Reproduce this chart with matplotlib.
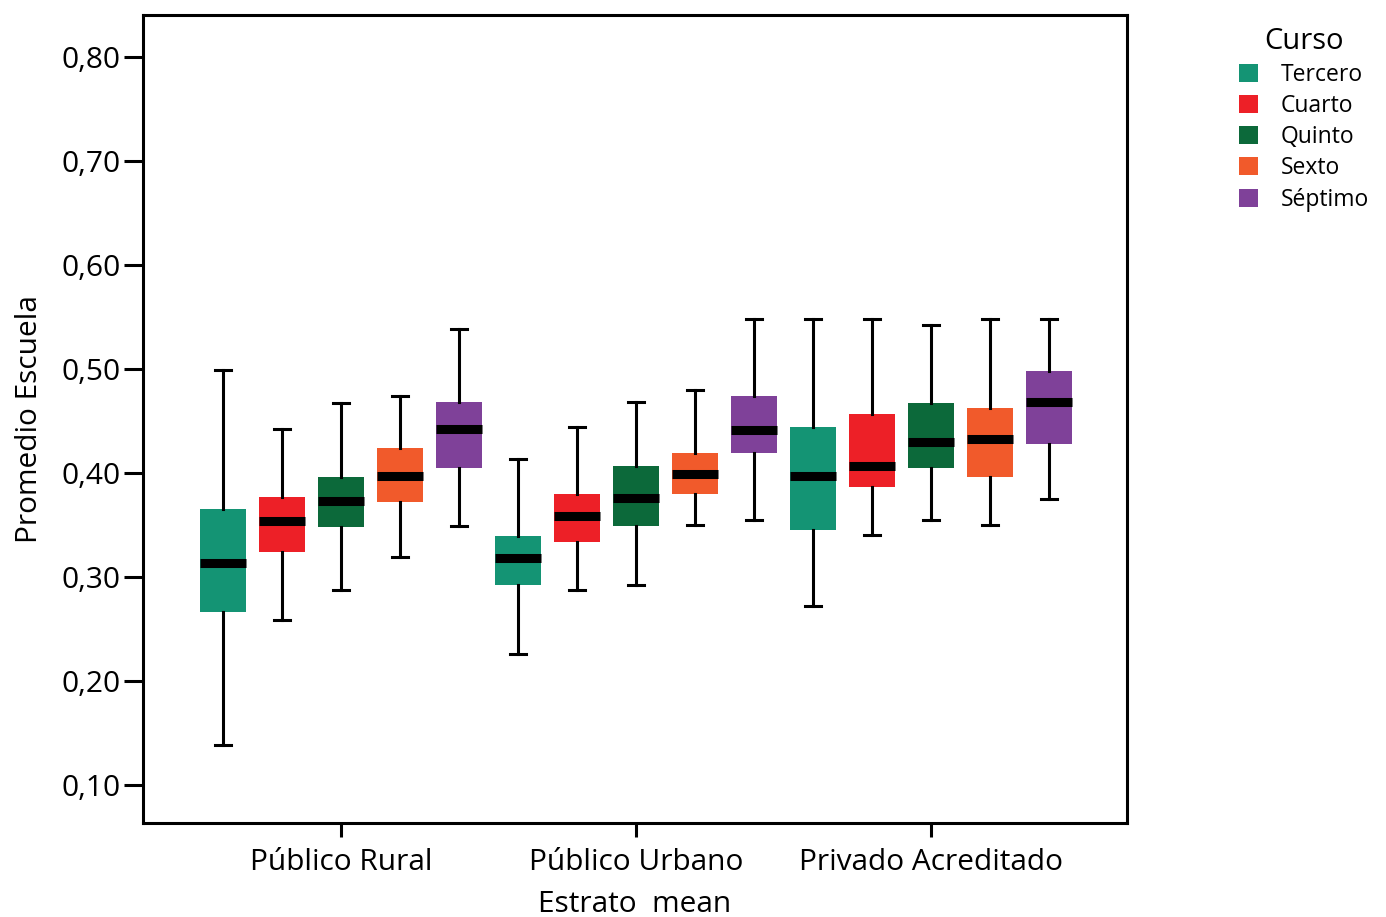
import matplotlib.pyplot as plt
from matplotlib.patches import Patch
from matplotlib.ticker import FuncFormatter

plt.rcParams['font.family'] = ['Open Sans', 'DejaVu Sans']

# Boxplot summary values
estratos = ["Público Rural", "Público Urbano", "Privado Acreditado"]
cursos = ["Tercero", "Cuarto", "Quinto", "Sexto", "Séptimo"]
colors = ["#149474", "#ED2027", "#0C693A", "#F15A2B", "#7F4199"]

# per estrato, per curso
whislo = [[0.138, 0.259, 0.287, 0.319, 0.349],
          [0.226, 0.287, 0.292, 0.350, 0.355],
          [0.272, 0.340, 0.355, 0.350, 0.375]]
q1 = [[0.266, 0.324, 0.348, 0.372, 0.405],
      [0.292, 0.334, 0.349, 0.380, 0.419],
      [0.345, 0.386, 0.405, 0.396, 0.428]]
med = [[0.313, 0.354, 0.373, 0.397, 0.442],
       [0.318, 0.359, 0.376, 0.399, 0.441],
       [0.397, 0.407, 0.430, 0.433, 0.468]]
q3 = [[0.365, 0.377, 0.396, 0.424, 0.468],
      [0.339, 0.380, 0.407, 0.419, 0.474],
      [0.444, 0.457, 0.467, 0.462, 0.498]]
whishi = [[0.499, 0.442, 0.467, 0.474, 0.538],
          [0.413, 0.444, 0.468, 0.480, 0.548],
          [0.548, 0.548, 0.542, 0.548, 0.548]]

fig = plt.figure(figsize=(13.86, 9.17), dpi=100)
ax = fig.add_axes([0.1032, 0.1025, 0.7099, 0.8811])

offset = 0.2
width = 0.153
for g in range(len(estratos)):
    for c in range(len(cursos)):
        stats = [dict(whislo=whislo[g][c], q1=q1[g][c], med=med[g][c],
                      q3=q3[g][c], whishi=whishi[g][c], fliers=[])]
        pos = g + (c - 2) * offset
        ax.bxp(stats, positions=[pos], widths=width, capwidths=0.054,
               patch_artist=True, showfliers=False,
               boxprops=dict(facecolor=colors[c], edgecolor='none', linewidth=0),
               medianprops=dict(color='black', linewidth=6.5, solid_capstyle='butt'),
               whiskerprops=dict(color='black', linewidth=2.2),
               capprops=dict(color='black', linewidth=2.2))

ax.set_xlim(-0.671, 2.664)
ax.set_ylim(0.0635, 0.840)
ax.set_yticks([0.1, 0.2, 0.3, 0.4, 0.5, 0.6, 0.7, 0.8])
ax.yaxis.set_major_formatter(FuncFormatter(lambda v, p: f"{v:.2f}".replace('.', ',')))
ax.set_xticks(range(len(estratos)))
ax.set_xticklabels(estratos)

ax.tick_params(axis='y', length=14, width=2.2, labelsize=21.5, pad=2)
ax.tick_params(axis='x', length=10, width=2.2, labelsize=21.5, pad=8)
for s in ax.spines.values():
    s.set_linewidth(2.2)

ax.set_ylabel("Promedio Escuela", fontsize=21.5, labelpad=13)
ax.set_xlabel("Estrato  mean", fontsize=21.5, labelpad=9)

handles = [Patch(facecolor=col, edgecolor='none') for col in colors]
leg = fig.legend(handles, cursos, loc='upper left', bbox_to_anchor=(1239 / 1386, 1 - 27 / 917),
                 frameon=False, fontsize=16.5, title="Curso", title_fontsize=21,
                 handlelength=0.83, handleheight=0.83, handletextpad=1.0,
                 labelspacing=0.31, borderpad=0, borderaxespad=0)

fig.savefig("out.png", dpi=100)
